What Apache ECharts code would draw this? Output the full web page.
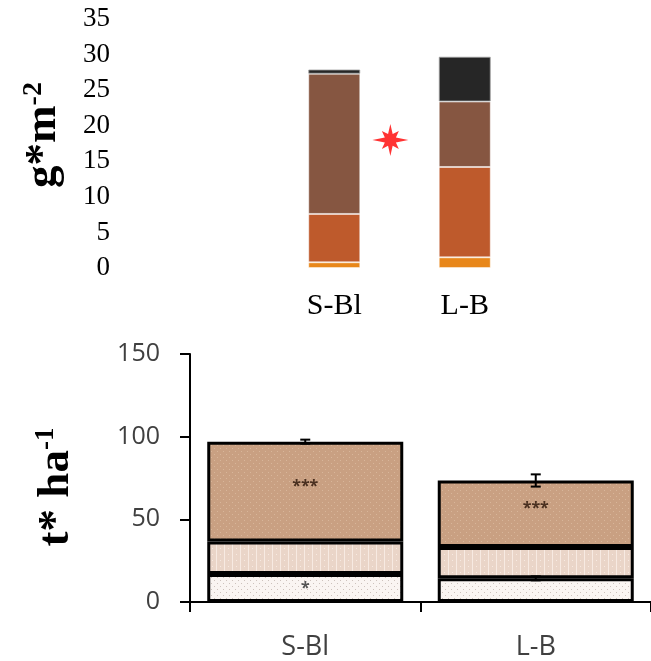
<!DOCTYPE html>
<html>
<head>
<meta charset="utf-8">
<script src="https://cdn.jsdelivr.net/npm/echarts@6/dist/echarts.min.js"></script>
<style>
  html, body { margin: 0; padding: 0; background: #fff; }
  #chart { width: 651px; height: 661px; }
</style>
</head>
<body>
<div id="chart"></div>
<script>
// ---- Upper panel: stacked composition in g*m-2 ----
const topCategories = ['S-Bl', 'L-B'];
const topTicks = [0, 5, 10, 15, 20, 25, 30, 35];
const topOrange = [0.8, 1.5];
const topRust = [6.8, 12.7];
const topBrown = [19.7, 9.2];
const topBlack = [0.6, 6.3];
// significance marker between the two upper bars: [category position, value]
const starMark = [[0.43, 18.0]];

// ---- Lower panel: stacked stock in t* ha-1 ----
const bottomCategories = ['S-Bl', 'L-B'];
const bottomTicks = [0, 50, 100, 150];
const lowerPart = [16.9, 14.3];
const middlePart = [19.7, 19.0];
const upperPart = [60.4, 40.2];
const lowerErr = [0.6, 1.2];
const totalErr = [1.2, 3.7];
const lowerSig = ['*', ''];
const upperSig = ['***', '***'];

// small repeating fills for the lower panel
function makePattern(bg, mark, kind) {
  const c = document.createElement('canvas');
  const w = kind === 'stripe' ? 8 : 6;
  c.width = w; c.height = 6;
  const g = c.getContext('2d');
  g.fillStyle = bg; g.fillRect(0, 0, w, 6);
  g.fillStyle = mark;
  if (kind === 'stripe') {
    g.fillRect(0, 0, 1, 6);
    g.fillRect(4, 2, 1, 1);
  } else {
    g.fillRect(1, 1, 1, 1);
    g.fillRect(4, 4, 1, 1);
  }
  return { image: c, repeat: 'repeat' };
}
const fillUpper = makePattern('#c9a082', 'rgba(220,188,160,0.8)', 'dot');
const fillMiddle = makePattern('#ead5c8', 'rgba(255,248,244,0.6)', 'stripe');
const fillLower = makePattern('#faf5f2', 'rgba(175,160,152,0.6)', 'dot');

// eight-pointed star outline
function starPath() {
  const radii = [18, 6, 12, 6, 15, 6, 12, 6, 18, 6, 12, 6, 15, 6, 12, 6];
  const pts = radii.map((r, i) => {
    const a = i * Math.PI / 8;
    return (18 + r * Math.cos(a)).toFixed(2) + ' ' + (16 - r * Math.sin(a)).toFixed(2);
  });
  return 'path://M' + pts.join(' L') + ' Z';
}

const serif = 'Liberation Serif';
const sans = 'Open Sans';

const chart = echarts.init(document.getElementById('chart'), null, { renderer: 'canvas' });

const option = {
  backgroundColor: '#fff',
  animation: false,
  grid: [
    { left: 269, right: 121, top: 19, bottom: 393 },
    { left: 190, right: -4, top: 354, bottom: 58 }
  ],
  xAxis: [
    {
      gridIndex: 0, type: 'category', data: topCategories,
      axisLine: { show: false }, axisTick: { show: false },
      axisLabel: { margin: 23, fontFamily: serif, fontSize: 30, color: '#000' }
    },
    {
      gridIndex: 0, type: 'value', min: -0.5, max: 1.5, show: false
    },
    {
      gridIndex: 1, type: 'category', data: bottomCategories,
      axisLine: { lineStyle: { color: '#000', width: 2 } },
      axisTick: { show: true, length: 10, lineStyle: { color: '#000', width: 2 } },
      axisLabel: { margin: 32, fontFamily: sans, fontSize: 27, color: '#404040' }
    }
  ],
  yAxis: [
    {
      gridIndex: 0, type: 'value', min: topTicks[0], max: topTicks[topTicks.length - 1], interval: 5,
      axisLine: { show: false }, axisTick: { show: false }, splitLine: { show: false },
      axisLabel: { margin: 159, fontFamily: serif, fontSize: 27, color: '#000' }
    },
    {
      gridIndex: 1, type: 'value', min: bottomTicks[0], max: bottomTicks[bottomTicks.length - 1], interval: 50,
      axisLine: { show: true, lineStyle: { color: '#000', width: 2 } },
      axisTick: { show: true, length: 10, lineStyle: { color: '#000', width: 2 } },
      splitLine: { show: false },
      axisLabel: { margin: 30, fontFamily: sans, fontSize: 25, color: '#404040' }
    }
  ],
  graphic: [
    {
      type: 'text', x: 43, y: 135, rotation: Math.PI / 2,
      style: {
        text: '{m|g*m}{s|-2}',
        align: 'center', verticalAlign: 'middle',
        rich: {
          m: { fontFamily: serif, fontWeight: 'bold', fontSize: 45, fill: '#000', lineHeight: 46 },
          s: { fontFamily: serif, fontWeight: 'bold', fontSize: 28, fill: '#000', lineHeight: 46, verticalAlign: 'top' }
        }
      }
    },
    {
      type: 'text', x: 56, y: 487, rotation: Math.PI / 2,
      style: {
        text: '{m|t* ha}{s|-1}',
        align: 'center', verticalAlign: 'middle',
        rich: {
          m: { fontFamily: serif, fontWeight: 'bold', fontSize: 45, fill: '#000', lineHeight: 46 },
          s: { fontFamily: serif, fontWeight: 'bold', fontSize: 27, fill: '#000', lineHeight: 46, verticalAlign: 'top' }
        }
      }
    }
  ],
  series: [
    // upper panel
    {
      type: 'bar', xAxisIndex: 0, yAxisIndex: 0, stack: 'top', barWidth: 52, data: topOrange,
      itemStyle: { color: '#e8871a', borderColor: 'rgba(255,255,255,0.45)', borderWidth: 1 }
    },
    {
      type: 'bar', xAxisIndex: 0, yAxisIndex: 0, stack: 'top', barWidth: 52, data: topRust,
      itemStyle: { color: '#be5a2c', borderColor: 'rgba(255,255,255,0.45)', borderWidth: 1 }
    },
    {
      type: 'bar', xAxisIndex: 0, yAxisIndex: 0, stack: 'top', barWidth: 52, data: topBrown,
      itemStyle: { color: '#865641', borderColor: 'rgba(255,255,255,0.45)', borderWidth: 1 }
    },
    {
      type: 'bar', xAxisIndex: 0, yAxisIndex: 0, stack: 'top', barWidth: 52, data: topBlack,
      itemStyle: { color: '#262626', borderColor: 'rgba(160,160,160,0.8)', borderWidth: 1 }
    },
    {
      type: 'scatter', xAxisIndex: 1, yAxisIndex: 0, data: starMark,
      symbol: starPath(), symbolSize: [36, 32],
      itemStyle: { color: '#ff0000' }
    },
    // lower panel
    {
      type: 'bar', xAxisIndex: 2, yAxisIndex: 1, stack: 'bottom', barWidth: 196, data: lowerPart,
      itemStyle: { color: fillLower, borderColor: '#000', borderWidth: 3 },
      label: {
        show: true, position: 'inside', color: '#555',
        fontFamily: sans, fontWeight: 'bold', fontSize: 16,
        formatter: p => lowerSig[p.dataIndex]
      }
    },
    {
      type: 'bar', xAxisIndex: 2, yAxisIndex: 1, stack: 'bottom', barWidth: 196, data: middlePart,
      itemStyle: { color: fillMiddle, borderColor: '#000', borderWidth: 3 }
    },
    {
      type: 'bar', xAxisIndex: 2, yAxisIndex: 1, stack: 'bottom', barWidth: 196, data: upperPart,
      itemStyle: { color: fillUpper, borderColor: '#000', borderWidth: 3 },
      label: {
        show: true, position: 'inside', offset: [0, -5], color: '#4a3020',
        fontFamily: sans, fontWeight: 'bold', fontSize: 16,
        formatter: p => upperSig[p.dataIndex]
      }
    },
    {
      type: 'custom', xAxisIndex: 2, yAxisIndex: 1, z: 5,
      data: bottomCategories.map((c, i) => [i, lowerPart[i], lowerErr[i]])
        .concat(bottomCategories.map((c, i) => [i, lowerPart[i] + middlePart[i] + upperPart[i], totalErr[i]])),
      renderItem: (params, api) => {
        const x = api.value(0), y = api.value(1), e = api.value(2);
        const hi = api.coord([x, y + e]);
        const lo = api.coord([x, y - e]);
        const cap = 5;
        const st = { stroke: '#000', lineWidth: 2 };
        return {
          type: 'group',
          children: [
            { type: 'line', shape: { x1: hi[0], y1: hi[1], x2: lo[0], y2: lo[1] }, style: st },
            { type: 'line', shape: { x1: hi[0] - cap, y1: hi[1], x2: hi[0] + cap, y2: hi[1] }, style: st },
            { type: 'line', shape: { x1: lo[0] - cap, y1: lo[1], x2: lo[0] + cap, y2: lo[1] }, style: st }
          ]
        };
      }
    }
  ]
};

chart.setOption(option);
</script>
</body>
</html>
